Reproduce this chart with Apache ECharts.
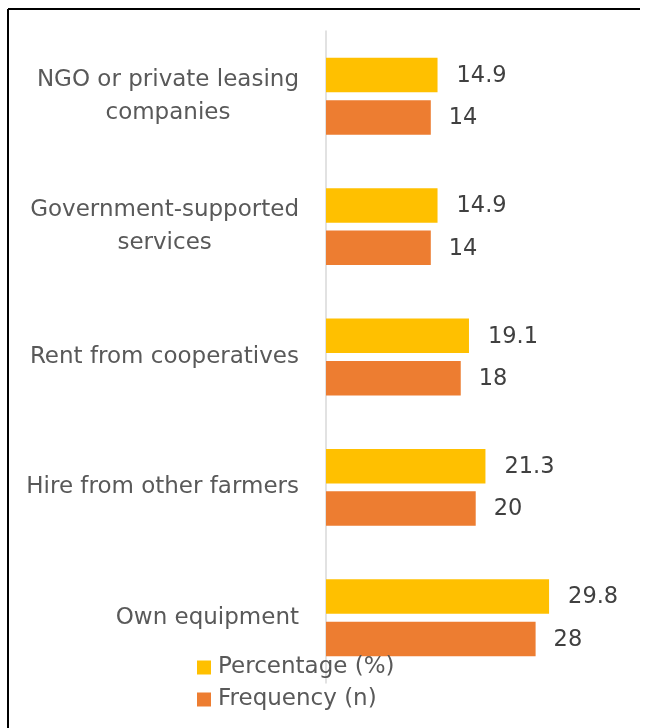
<!DOCTYPE html>
<html>
<head>
<meta charset="utf-8">
<script src="https://cdn.jsdelivr.net/npm/echarts@6/dist/echarts.min.js"></script>
<style>
  html, body { margin: 0; padding: 0; background: #fff; }
  #chart { width: 649px; height: 728px; }
</style>
</head>
<body>
<div id="chart"></div>
<script>
// Sources of farm machinery access, top to bottom
const categories = [
  'NGO or private leasing\ncompanies',
  'Government-supported\nservices',
  'Rent from cooperatives',
  'Hire from other farmers',
  'Own equipment'
];
const percentage = [14.9, 14.9, 19.1, 21.3, 29.8];
const frequency = [14, 14, 18, 20, 28];
const seriesNames = ['Percentage (%)', 'Frequency (n)'];

const FONT = '"DejaVu Sans", sans-serif';

const valueLabel = {
  show: true, position: 'right',
  color: '#404040', fontSize: 22.5, fontFamily: FONT
};

const chart = echarts.init(document.getElementById('chart'));
chart.setOption({
  backgroundColor: '#ffffff',
  animation: false,
  grid: { left: 326, right: 61, top: 31, bottom: 45, containLabel: false },
  legend: {
    orient: 'vertical',
    left: 192,
    top: 651,
    itemWidth: 14,
    itemHeight: 14,
    itemGap: 9,
    icon: 'rect',
    textStyle: {
      color: '#595959', fontSize: 23, fontFamily: FONT,
      padding: [0, 0, 0, 2]
    },
    data: seriesNames
  },
  xAxis: {
    type: 'value',
    min: 0,
    max: 35,
    show: false
  },
  yAxis: {
    type: 'category',
    inverse: true,
    data: categories,
    axisLine: { show: true, lineStyle: { color: '#d9d9d9', width: 1.5 } },
    axisTick: { show: false },
    axisLabel: {
      color: '#595959',
      fontSize: 23,
      fontFamily: FONT,
      margin: 27,
      align: 'right',
      // each line centred within the right-aligned label block
      formatter: v => v.split('\n').map(s => '{c|' + s + '}').join('\n'),
      rich: {
        c: {
          align: 'center',
          color: '#595959',
          fontSize: 23,
          fontFamily: FONT,
          lineHeight: 33
        }
      }
    }
  },
  series: [
    {
      name: seriesNames[0],
      type: 'bar',
      data: percentage,
      itemStyle: { color: '#FFC000' },
      barGap: '23%',
      barCategoryGap: '41%',
      label: Object.assign({ distance: 19, offset: [0, 1] }, valueLabel)
    },
    {
      name: seriesNames[1],
      type: 'bar',
      data: frequency,
      itemStyle: { color: '#ED7D31' },
      barGap: '23%',
      barCategoryGap: '41%',
      label: Object.assign({ distance: 18, offset: [0, 1] }, valueLabel)
    }
  ],
  graphic: [
    { type: 'line', shape: { x1: 8, y1: 9, x2: 640, y2: 9 }, style: { stroke: '#000', lineWidth: 2 } },
    { type: 'line', shape: { x1: 8, y1: 9, x2: 8, y2: 728 }, style: { stroke: '#000', lineWidth: 2 } }
  ]
});
</script>
</body>
</html>
